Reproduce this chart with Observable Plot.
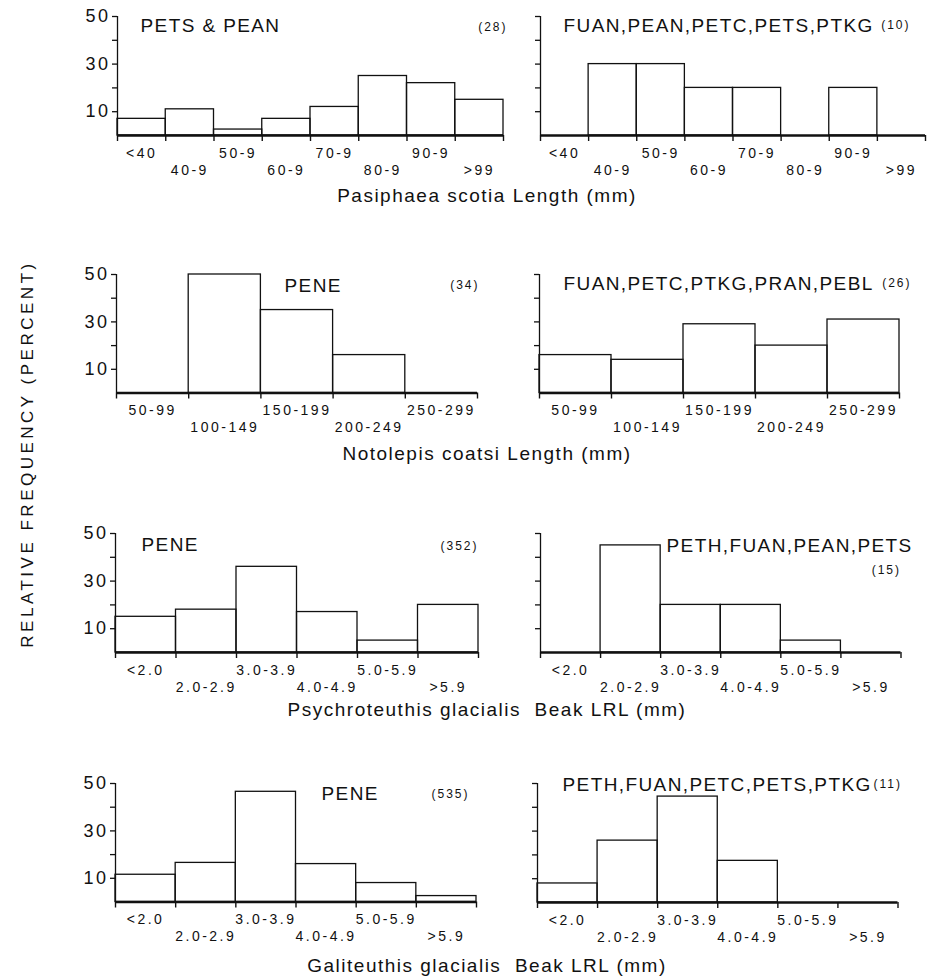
<!DOCTYPE html>
<html>
<head>
<meta charset="utf-8">
<script src="https://cdn.jsdelivr.net/npm/d3@7"></script>
<script src="https://cdn.jsdelivr.net/npm/@observablehq/plot@0.6"></script>
<style>
  body { margin: 0; background: #fff; }
  #chart { position: relative; width: 931px; height: 979px; font-family: "Liberation Sans", Arial, Helvetica, sans-serif; color: #111; overflow: hidden; }
  #chart svg { position: absolute; overflow: visible; }
  .rowtitle { position: absolute; white-space: pre; font-size: 19px; line-height: 19px; letter-spacing: 1.5px; transform: translateX(-50%); }
  .ytitle { position: absolute; white-space: pre; font-size: 17px; line-height: 17px; letter-spacing: 3.5px; transform: translate(-50%, -50%) rotate(-90deg); }
</style>
</head>
<body>
<div id="chart"></div>
<script>
// ---------- data ----------
const pasiphaeaBins = ["<40", "40-9", "50-9", "60-9", "70-9", "80-9", "90-9", ">99"];
const notolepisBins = ["50-99", "100-149", "150-199", "200-249", "250-299"];
const beakBins = ["<2.0", "2.0-2.9", "3.0-3.9", "4.0-4.9", "5.0-5.9", ">5.9"];

const pasiphaeaPetsPean = [7, 11, 2.5, 7, 12, 25, 22, 15];
const pasiphaeaMixed = [0, 30, 30, 20, 20, 0, 20, 0];
const notolepisPene = [0, 50, 35, 16, 0];
const notolepisMixed = [16, 14, 29, 20, 31];
const psychroPene = [15, 18, 36, 17, 5, 20];
const psychroMixed = [0, 45, 20, 20, 5, 0];
const galiPene = [11.5, 16.5, 46.5, 16, 8, 2.5];
const galiMixed = [8, 26, 44.5, 17.5, 0, 0];

const predatorLabels = ["PETS & PEAN", "FUAN,PEAN,PETC,PETS,PTKG", "PENE", "FUAN,PETC,PTKG,PRAN,PEBL",
                        "PENE", "PETH,FUAN,PEAN,PETS", "PENE", "PETH,FUAN,PETC,PETS,PTKG"];
const sampleSizes = ["(28)", "(10)", "(34)", "(26)", "(352)", "(15)", "(535)", "(11)"];
const rowTitles = ["Pasiphaea scotia Length (mm)", "Notolepis coatsi Length (mm)",
                   "Psychroteuthis glacialis  Beak LRL (mm)", "Galiteuthis glacialis  Beak LRL (mm)"];
const yTicks = [10, 20, 30, 40, 50];
const yTickLabels = [10, 30, 50];
const yDomain = [0, 50];
const yTitle = "RELATIVE FREQUENCY (PERCENT)";

// ---------- layout (pixel frames: left, top, right, bottom) ----------
const layout = [
  {bins: pasiphaeaBins, values: pasiphaeaPetsPean, frame: [117, 16, 503, 135], labeled: true,  pl: [23, 9],  nl: [4, 11]},
  {bins: pasiphaeaBins, values: pasiphaeaMixed,    frame: [540, 16, 925, 135], labeled: false, pl: [23, 9],  nl: [-15, 9]},
  {bins: notolepisBins, values: notolepisPene,     frame: [116, 274, 477, 392.5], labeled: true,  pl: [168, 11], nl: [2, 11]},
  {bins: notolepisBins, values: notolepisMixed,    frame: [539, 274, 899, 392.5], labeled: false, pl: [24, 9],  nl: [12, 9]},
  {bins: beakBins, values: psychroPene,  frame: [114.5, 532.5, 477.5, 651.5], labeled: true,  pl: [26, 11], nl: [0, 13]},
  {bins: beakBins, values: psychroMixed, frame: [539.5, 533, 900, 652], labeled: false, pl: [126, 12], nl: [0, 37]},
  {bins: beakBins, values: galiPene,     frame: [114.5, 782.5, 475.5, 901], labeled: true,  pl: [206, 10], nl: [-7, 11]},
  {bins: beakBins, values: galiMixed,    frame: [537, 782.5, 897.5, 901.5], labeled: false, pl: [25, 1],  nl: [4, 1]}
];
const titleTops = [185.5, 443.5, 699.5, 955.5];
const titleCenterX = 487;

const chart = document.getElementById("chart");
const ML = 60, MT = 25, MR = 35, MB = 50;
const spacing = {"14": "2.5px", "19": "1.4px", "12": "2px", "18": "2.5px"};

layout.forEach((p, k) => {
  const [fl, ft, fr, fb] = p.frame;
  const rows = p.bins.map((bin, i) => ({bin, i, v: p.values[i]}));
  const edges = d3.range(p.bins.length + 1);
  const svg = Plot.plot({
    width: (fr - fl) + ML + MR,
    height: (fb - ft) + MT + MB,
    marginLeft: ML, marginTop: MT, marginRight: MR, marginBottom: MB,
    style: {background: "transparent", fontFamily: '"Liberation Sans", Arial, sans-serif', color: "#111", overflow: "visible"},
    x: {domain: [0, p.bins.length]},
    y: {domain: yDomain},
    marks: [
      Plot.rectY(rows, {x1: "i", x2: d => d.i + 1, y: "v", fill: "none", stroke: "#111", strokeWidth: 1.3}),
      Plot.ruleY([0], {stroke: "#111", strokeWidth: 2.3}),
      Plot.ruleX([0], {y1: yDomain[0], y2: yDomain[1], stroke: "#111", strokeWidth: 1.3}),
      Plot.axisY({ticks: yTicks, tickSize: 5, tickPadding: 2, fontSize: 18, strokeWidth: 1.3,
                  tickFormat: d => (p.labeled && yTickLabels.includes(d)) ? String(d) : "", label: null}),
      Plot.axisX({ticks: edges, tickSize: 6, strokeWidth: 1.4, tickFormat: () => "", label: null}),
      Plot.text(rows.filter(d => d.i % 2 === 0), {x: d => d.i + 0.5, text: "bin", frameAnchor: "bottom", lineAnchor: "middle", dy: 18, fontSize: 14, fill: "#111"}),
      Plot.text(rows.filter(d => d.i % 2 === 1), {x: d => d.i + 0.5, text: "bin", frameAnchor: "bottom", lineAnchor: "middle", dy: 35, fontSize: 14, fill: "#111"}),
      Plot.text([predatorLabels[k]], {text: d => d, frameAnchor: "top-left", lineAnchor: "middle", textAnchor: "start", dx: p.pl[0], dy: p.pl[1], fontSize: 19, fill: "#111"}),
      Plot.text([sampleSizes[k]], {text: d => d, frameAnchor: "top-right", lineAnchor: "middle", textAnchor: "end", dx: p.nl[0], dy: p.nl[1], fontSize: 12, fill: "#111"})
    ]
  });
  d3.select(svg).selectAll("g[font-size]").each(function() {
    const fs = this.getAttribute("font-size");
    if (spacing[fs]) this.style.letterSpacing = spacing[fs];
  });
  svg.style.left = (fl - ML) + "px";
  svg.style.top = (ft - MT) + "px";
  chart.appendChild(svg);
});

rowTitles.forEach((t, i) => {
  const div = document.createElement("div");
  div.className = "rowtitle";
  div.textContent = t;
  div.style.left = titleCenterX + "px";
  div.style.top = titleTops[i] + "px";
  chart.appendChild(div);
});

const yt = document.createElement("div");
yt.className = "ytitle";
yt.textContent = yTitle;
yt.style.left = "27px";
yt.style.top = "453.5px";
chart.appendChild(yt);
</script>
</body>
</html>
